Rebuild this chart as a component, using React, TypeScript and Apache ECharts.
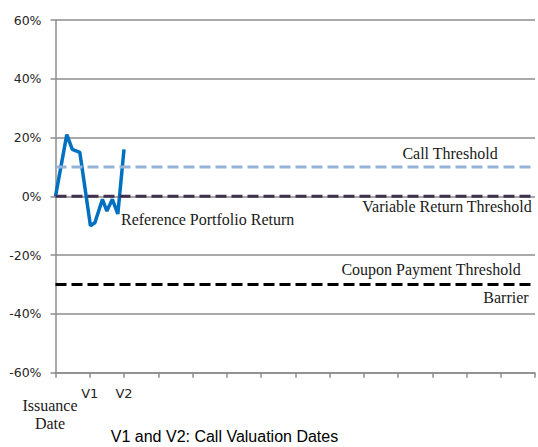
import React, { useEffect, useRef } from "react";
import * as echarts from "echarts";

// Time in valuation-period units (0 = Issuance Date, 1 = V1, 2 = V2)
const periods = [0, 0.33, 0.49, 0.71, 1.02, 1.15, 1.37, 1.5, 1.66, 1.82, 2.0];
const portfolioReturn = [0, 21, 16, 15, -10, -9, -1, -5, -1, -6, 16];

const callThreshold = 10;
const variableReturnThreshold = 0;
const barrier = -30;

const xTickLabels: Record<number, string> = { 1: "V1", 2: "V2" };
const xMax = 14;
const yTicks = [-60, -40, -20, 0, 20, 40, 60];

const serif = "'Liberation Serif', 'Times New Roman', serif";
const sans = "'DejaVu Sans', Verdana, sans-serif";

export default function App() {
  const ref = useRef<HTMLDivElement>(null);
  useEffect(() => {
    if (!ref.current) return;
    const chart = echarts.init(ref.current, null, { renderer: "svg" });
    const hline = (v: number) => [
      [0, v],
      [xMax, v],
    ];
    chart.setOption({
      animation: false,
      grid: { left: 55.5, right: 0, top: 20, bottom: 74.3, containLabel: false },
      xAxis: {
        type: "value",
        min: 0,
        max: xMax,
        interval: 1,
        splitLine: { show: false },
        axisLine: { show: true, onZero: false, lineStyle: { color: "#8c8c8c", width: 1.5 } },
        axisTick: { show: true, length: 5, lineStyle: { color: "#8c8c8c", width: 1.5 } },
        axisLabel: {
          margin: 14,
          fontFamily: sans,
          fontSize: 13,
          color: "#262626",
          formatter: (v: number) => xTickLabels[Math.round(v)] ?? "",
        },
      },
      yAxis: {
        type: "value",
        min: yTicks[0],
        max: yTicks[yTicks.length - 1],
        interval: 20,
        axisLine: { show: true, onZero: false, lineStyle: { color: "#8c8c8c", width: 1.5 } },
        axisTick: { show: true, length: 5, inside: false, lineStyle: { color: "#8c8c8c", width: 1.5 } },
        splitLine: { show: true, lineStyle: { color: "#8c8c8c", width: 1.5 } },
        axisLabel: {
          margin: 14,
          fontFamily: sans,
          fontSize: 12.5,
          color: "#262626",
          formatter: "{value}%",
        },
      },
      series: [
        {
          type: "line",
          name: "Reference Portfolio Return",
          data: periods.map((p, i) => [p, portfolioReturn[i]]),
          symbol: "none",
          lineStyle: { color: "#0070C0", width: 3.5 },
          z: 2,
        },
        {
          type: "line",
          name: "Call Threshold",
          data: hline(callThreshold),
          symbol: "none",
          lineStyle: { color: "#95B3D7", width: 3, type: [11, 5] },
          z: 3,
        },
        {
          type: "line",
          name: "Variable Return Threshold",
          data: hline(variableReturnThreshold),
          symbol: "none",
          lineStyle: { color: "#403152", width: 3, type: [11, 5] },
          z: 3,
        },
        {
          type: "line",
          name: "Barrier",
          data: hline(barrier),
          symbol: "none",
          lineStyle: { color: "#000000", width: 3, type: [11, 5] },
          z: 3,
        },
      ],
      graphic: [
        { type: "text", x: 450, y: 153, style: { text: "Call Threshold", font: `16px ${serif}`, fill: "#1a1a1a", textAlign: "center", textVerticalAlign: "middle" } },
        { type: "text", x: 447, y: 206, style: { text: "Variable Return Threshold", font: `16px ${serif}`, fill: "#1a1a1a", textAlign: "center", textVerticalAlign: "middle" } },
        { type: "text", x: 431, y: 269, style: { text: "Coupon Payment Threshold", font: `16px ${serif}`, fill: "#1a1a1a", textAlign: "center", textVerticalAlign: "middle" } },
        { type: "text", x: 506, y: 297, style: { text: "Barrier", font: `16px ${serif}`, fill: "#1a1a1a", textAlign: "center", textVerticalAlign: "middle" } },
        { type: "text", x: 121, y: 219, style: { text: "Reference Portfolio Return", font: `16px ${serif}`, fill: "#1a1a1a", textAlign: "left", textVerticalAlign: "middle" } },
        { type: "text", x: 50, y: 405, style: { text: "Issuance", font: `16px ${serif}`, fill: "#1a1a1a", textAlign: "center", textVerticalAlign: "middle" } },
        { type: "text", x: 50, y: 423, style: { text: "Date", font: `16px ${serif}`, fill: "#1a1a1a", textAlign: "center", textVerticalAlign: "middle" } },
        { type: "text", x: 224.5, y: 436, style: { text: "V1 and V2: Call Valuation Dates", font: `16px 'Liberation Sans', Arial, sans-serif`, fill: "#000", textAlign: "center", textVerticalAlign: "middle" } },
      ],
    });
    return () => chart.dispose();
  }, []);
  return (
    <div
      ref={ref}
      style={{ position: "fixed", left: 0, top: 0, width: 538, height: 447, background: "#fff" }}
    />
  );
}
